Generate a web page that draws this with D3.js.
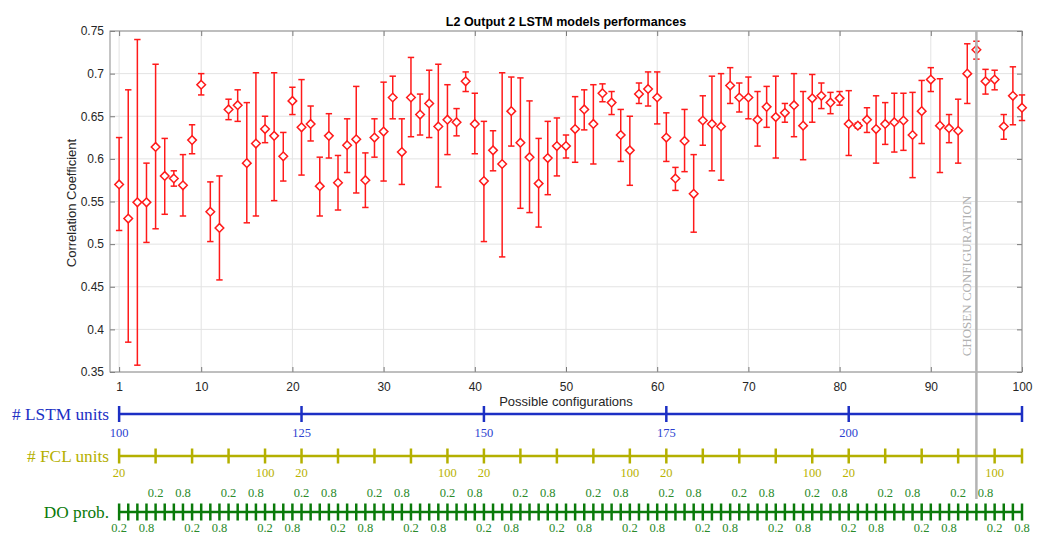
<!DOCTYPE html>
<html><head><meta charset="utf-8">
<script src="https://cdn.jsdelivr.net/npm/d3@7"></script>
<style>body{margin:0;background:#fff}svg{display:block}</style>
</head><body><svg id="c" width="1042" height="535"></svg>
<script>
const meanVals = [0.570,0.530,0.549,0.549,0.614,0.580,0.577,0.569,0.622,0.687,
0.538,0.519,0.658,0.663,0.595,0.618,0.635,0.627,0.603,0.668,
0.637,0.641,0.568,0.627,0.572,0.616,0.623,0.575,0.625,0.632,
0.672,0.608,0.672,0.652,0.665,0.638,0.646,0.643,0.691,0.641,
0.574,0.610,0.594,0.656,0.619,0.602,0.571,0.601,0.615,0.615,
0.635,0.658,0.641,0.677,0.666,0.628,0.610,0.676,0.682,0.672,
0.625,0.577,0.621,0.559,0.645,0.641,0.638,0.686,0.672,0.672,
0.646,0.661,0.649,0.654,0.663,0.639,0.671,0.674,0.666,0.671,
0.641,0.639,0.646,0.635,0.641,0.643,0.645,0.628,0.656,0.693,
0.639,0.636,0.633,0.700,0.728,0.691,0.693,0.638,0.674,0.660];
const upperVals = [0.625,0.681,0.740,0.595,0.711,0.624,0.586,0.605,0.640,0.700,
0.573,0.580,0.670,0.681,0.666,0.701,0.650,0.701,0.631,0.684,
0.693,0.662,0.602,0.653,0.604,0.647,0.685,0.607,0.647,0.690,
0.697,0.647,0.719,0.676,0.704,0.711,0.687,0.659,0.702,0.677,
0.644,0.633,0.701,0.696,0.695,0.668,0.624,0.644,0.648,0.628,
0.673,0.681,0.687,0.688,0.679,0.658,0.650,0.689,0.702,0.702,
0.654,0.590,0.658,0.605,0.674,0.697,0.700,0.707,0.689,0.696,
0.679,0.685,0.697,0.665,0.700,0.679,0.699,0.689,0.678,0.679,
0.680,0.642,0.660,0.674,0.666,0.677,0.677,0.678,0.692,0.707,
0.694,0.652,0.670,0.735,0.738,0.705,0.704,0.652,0.708,0.675];
const lowerVals = [0.516,0.385,0.358,0.502,0.518,0.535,0.568,0.533,0.606,0.675,
0.503,0.458,0.646,0.644,0.525,0.533,0.619,0.551,0.574,0.652,
0.581,0.621,0.533,0.601,0.540,0.584,0.560,0.543,0.602,0.574,
0.647,0.570,0.626,0.628,0.625,0.567,0.605,0.627,0.679,0.606,
0.503,0.586,0.485,0.615,0.542,0.537,0.520,0.558,0.580,0.601,
0.596,0.634,0.594,0.667,0.652,0.597,0.569,0.665,0.662,0.641,
0.597,0.563,0.585,0.514,0.616,0.586,0.575,0.665,0.655,0.647,
0.615,0.637,0.601,0.643,0.626,0.599,0.643,0.659,0.653,0.663,
0.604,0.636,0.631,0.595,0.617,0.608,0.610,0.578,0.618,0.679,
0.584,0.619,0.595,0.665,0.717,0.676,0.681,0.623,0.640,0.645];
const xTickVals = [1,10,20,30,40,50,60,70,80,90,100];
const yTickVals = [0.35,0.4,0.45,0.5,0.55,0.6,0.65,0.7,0.75];
const lstmUnits = [100,125,150,175,200];
const fclUnits = [20,40,60,80,100];
const doProbs = [0.2,0.4,0.6,0.8];
const chosenConfig = 95;
const title = "L2 Output 2 LSTM models performances";

const svg = d3.select("#c");
const L=110,R=1022,T=31,B=372;
const x = d3.scaleLinear().domain([0,100]).range([L,R]);
const y = d3.scaleLinear().domain([0.35,0.75]).range([B,T]);
const sans = "Liberation Sans, Arial, sans-serif";
const serif = "Liberation Serif, Times New Roman, serif";

svg.append("rect").attr("width",1042).attr("height",535).attr("fill","#fff");
// grid
svg.append("g").selectAll("line").data(xTickVals).join("line")
  .attr("x1",d=>x(d)).attr("x2",d=>x(d)).attr("y1",T).attr("y2",B)
  .attr("stroke","#e3e3e3").attr("stroke-width",1);
svg.append("g").selectAll("line").data(yTickVals).join("line")
  .attr("x1",L).attr("x2",R).attr("y1",d=>y(d)).attr("y2",d=>y(d))
  .attr("stroke","#e3e3e3").attr("stroke-width",1);

// axes (D3 axes with inward ticks)
const axCol="#7a7a7a";
function styleAxis(g){g.select(".domain").remove();g.selectAll(".tick line").attr("stroke",axCol);g.selectAll("text").attr("fill","#262626").style("font-family",sans).style("font-size","12px");}
svg.append("g").attr("transform",`translate(0,${B})`)
  .call(d3.axisBottom(x).tickValues(xTickVals).tickSizeInner(-5).tickPadding(10))
  .call(styleAxis);
svg.append("g").attr("transform",`translate(0,${T})`)
  .call(d3.axisTop(x).tickValues(xTickVals).tickSizeInner(-5).tickFormat(""))
  .call(styleAxis);
svg.append("g").attr("transform",`translate(${L},0)`)
  .call(d3.axisLeft(y).tickValues(yTickVals).tickSizeInner(-5).tickPadding(6).tickFormat(d3.format("~g")))
  .call(styleAxis);
svg.append("g").attr("transform",`translate(${R},0)`)
  .call(d3.axisRight(y).tickValues(yTickVals).tickSizeInner(-5).tickFormat(""))
  .call(styleAxis);
svg.append("rect").attr("x",L).attr("y",T).attr("width",R-L).attr("height",B-T)
  .attr("fill","none").attr("stroke","#8c8c8c").attr("stroke-width",1);

// title and labels
svg.append("text").attr("x",(L+R)/2).attr("y",25.5).attr("text-anchor","middle")
  .style("font-family",sans).style("font-size","12.5px").style("font-weight","bold").attr("fill","#000").text(title);
svg.append("text").attr("x",(L+R)/2).attr("y",406).attr("text-anchor","middle")
  .style("font-family",sans).style("font-size","13px").attr("fill","#262626").text("Possible configurations");
svg.append("text").attr("transform","translate(76,203) rotate(-90)").attr("text-anchor","middle")
  .style("font-family",sans).style("font-size","13px").attr("fill","#262626").text("Correlation Coefficient");

// data
const data = meanVals.map((m,i)=>({c:i+1,m,hi:upperVals[i],lo:lowerVals[i]}));
const red="#ff1a1a";
const eg = svg.append("g").attr("stroke",red).attr("stroke-width",1.5).attr("fill","none");
eg.selectAll("line.v").data(data).join("line").attr("class","v")
  .attr("x1",d=>x(d.c)).attr("x2",d=>x(d.c)).attr("y1",d=>y(d.hi)).attr("y2",d=>y(d.lo));
eg.selectAll("line.t").data(data).join("line").attr("class","t")
  .attr("x1",d=>x(d.c)-3.2).attr("x2",d=>x(d.c)+3.2).attr("y1",d=>y(d.hi)).attr("y2",d=>y(d.hi));
eg.selectAll("line.b").data(data).join("line").attr("class","b")
  .attr("x1",d=>x(d.c)-3.2).attr("x2",d=>x(d.c)+3.2).attr("y1",d=>y(d.lo)).attr("y2",d=>y(d.lo));
eg.selectAll("path").data(data).join("path")
  .attr("d",d=>{const cx=x(d.c),cy=y(d.m),s=4.3;return `M${cx},${cy-s}L${cx+s},${cy}L${cx},${cy+s}L${cx-s},${cy}Z`;})
  .attr("fill","#fff");

// chosen configuration line
svg.append("line").attr("x1",x(chosenConfig)).attr("x2",x(chosenConfig)).attr("y1",T).attr("y2",499)
  .attr("stroke","#b3b3b3").attr("stroke-width",2.5);
svg.append("text").attr("transform",`translate(${x(chosenConfig)-5.5},276) rotate(-90)`).attr("text-anchor","middle")
  .style("font-family",serif).style("font-size","13px").attr("fill","#b0b0b0").text("CHOSEN CONFIGURATION");

// parameter axes
const configs = meanVals.map((m,i)=>i+1);
const xs = x(1), xe = x(100);
function paramAxis(yy, color, tickH, tickList){
  const g=svg.append("g");
  g.append("line").attr("x1",xs).attr("x2",xe).attr("y1",yy).attr("y2",yy).attr("stroke",color).attr("stroke-width",2.5);
  g.selectAll("line.tk").data(tickList).join("line").attr("class","tk")
    .attr("x1",d=>x(d)).attr("x2",d=>x(d)).attr("y1",yy-tickH/2).attr("y2",yy+tickH/2)
    .attr("stroke",color).attr("stroke-width",2.5);
  return g;
}
const bigFont="17.3px";
// LSTM
const lstmBlue="#1c2fc4";
const lstmStarts = configs.filter(c=>(c-1)%20===0);
paramAxis(414,lstmBlue,16,lstmStarts.concat([100]));
svg.append("g").selectAll("text").data(lstmStarts).join("text")
  .attr("x",c=>x(c)).attr("y",437).attr("text-anchor","middle")
  .style("font-family",serif).style("font-size","12.5px").attr("fill","#2c3fd0")
  .text(c=>lstmUnits[Math.floor((c-1)/20)]);
svg.append("text").attr("x",109).attr("y",420).attr("text-anchor","end")
  .style("font-family",serif).style("font-size",bigFont).attr("fill",lstmBlue).text("# LSTM units");
// FCL
const fclCol="#b4b000";
const fclStarts = configs.filter(c=>(c-1)%4===0);
paramAxis(456,fclCol,15,fclStarts.concat([100]));
const fclLabeled = fclStarts.filter(c=>{const k=Math.floor((c-1)/4)%5;return k===0||k===4;});
svg.append("g").selectAll("text").data(fclLabeled).join("text")
  .attr("x",c=>x(c)).attr("y",477).attr("text-anchor","middle")
  .style("font-family",serif).style("font-size","12.5px").attr("fill","#b8b200")
  .text(c=>fclUnits[Math.floor((c-1)/4)%5]);
svg.append("text").attr("x",109).attr("y",462).attr("text-anchor","end")
  .style("font-family",serif).style("font-size",bigFont).attr("fill",fclCol).text("# FCL units");
// DO
const doCol="#0a7a0a";
paramAxis(512,doCol,17,configs);
const doLabeled = configs.filter(c=>{const k=(c-1)%4;return k===0||k===3;});
svg.append("g").selectAll("text").data(doLabeled).join("text")
  .attr("x",c=>x(c)).attr("y",c=>(Math.floor((c-1)/4)%2===0)?531.5:497).attr("text-anchor","middle")
  .style("font-family",serif).style("font-size","12.5px").attr("fill","#2a8a2a")
  .text(c=>doProbs[(c-1)%4]);
svg.append("text").attr("x",109).attr("y",518).attr("text-anchor","end")
  .style("font-family",serif).style("font-size",bigFont).attr("fill",doCol).text("DO prob.");
</script></body></html>
